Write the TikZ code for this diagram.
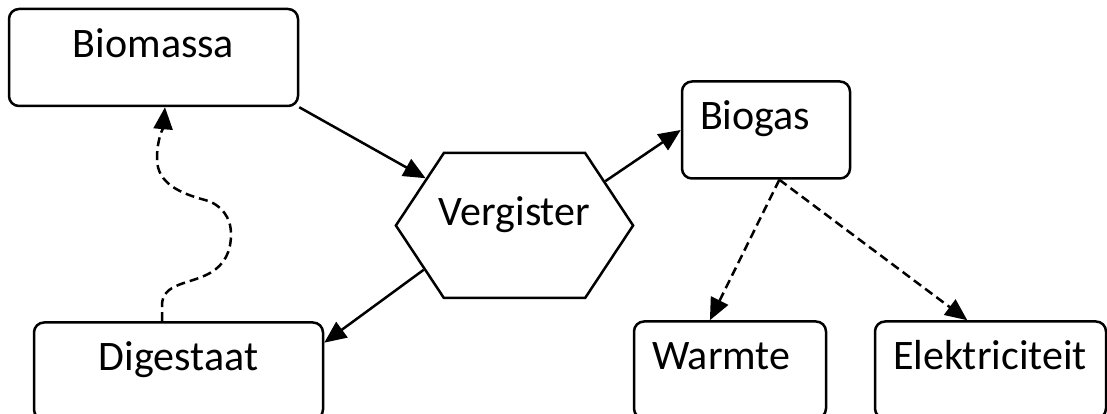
\documentclass[tikz,border=0pt]{standalone}
\usepackage{fontspec}
\setmainfont{Carlito}
\usetikzlibrary{shapes.symbols,arrows.meta}

\begin{document}
\begin{tikzpicture}[x=1pt, y=1pt,
   every node/.style={font=\fontsize{42}{50}\selectfont, text height=15pt, text depth=15pt},
   box/.style={draw, rounded corners=10pt, line width=2.5pt, minimum height=97pt},
   lbox/.style={box, align=left, inner xsep=18pt},
   hexa/.style={draw, line width=2.5pt, signal, signal to=west and east, signal pointer angle=113, inner xsep=-5pt},
   flow/.style={line width=2.5pt, -{Triangle[length=22pt,width=19pt]}},
   side/.style={flow, dash pattern=on 9pt off 5pt}]

\useasboundingbox (0,0) rectangle (1107,414);

\node[box, minimum width=289pt] (biomassa) at (153.5,356.5) {Biomassa};
\node[hexa, minimum height=145pt] (vergister) at (514.5,188.5) {Vergister};
\node[lbox, text width=132pt] (biogas) at (766,284) {Biogas};
\node[box, minimum width=289pt] (digestaat) at (178.5,43) {Digestaat};
\node[lbox, text width=156pt] (warmte) at (730,44) {Warmte};
\node[lbox, text width=195pt] (elektriciteit) at (990.5,44) {Elektriciteit};

\draw[flow] (biomassa.south east) -- (vergister.152);
\draw[flow] (vergister.26) -- (biogas.west);
\draw[flow] (vergister.206) -- (digestaat.11);
\draw[side] (biogas.-75) -- (warmte.112);
\draw[side] (biogas.-75) -- (elektriciteit.115);
\draw[side] ([xshift=-16.5pt]digestaat.north) -- ++(0,16)
    to[out=90,in=210] (210,141) to[out=30,in=-90] (231,180)
    to[out=90,in=-15] (205,214) to[out=165,in=-90] (157,255)
    to[out=90,in=-95] ([xshift=11.5pt]biomassa.south);

\end{tikzpicture}
\end{document}
